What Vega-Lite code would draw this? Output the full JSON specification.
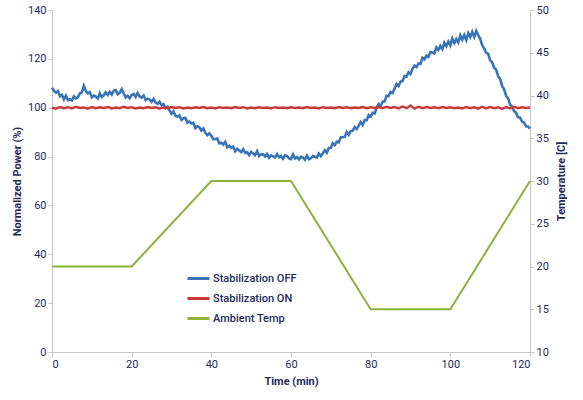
{
  "$schema": "https://vega.github.io/schema/vega-lite/v6.json",
  "width": 478,
  "height": 342,
  "autosize": "none",
  "padding": {"left": 52, "top": 10, "right": 53, "bottom": 48},
  "background": "white",
  "config": {
    "view": {"stroke": null},
    "font": "Roboto",
    "axis": {
      "grid": false,
      "domainColor": "#c6c6c6",
      "tickColor": "#c6c6c6",
      "tickSize": 4,
      "labelColor": "#1f2b5b",
      "titleColor": "#1f2b5b",
      "labelFontSize": 11,
      "titleFontSize": 11,
      "titleFontWeight": "bold",
      "labelFont": "Roboto",
      "titleFont": "Roboto"
    },
    "legend": {
      "labelColor": "#1f2b5b",
      "labelFontSize": 11,
      "labelFontWeight": 500,
      "labelFont": "Roboto"
    }
  },
  "datasets": {
    "off": [
      {"t":0,"p":108.2},{"t":0.5,"p":107.0},{"t":1,"p":106.1},{"t":1.5,"p":106.8},{"t":2,"p":104.7},{"t":2.5,"p":105.3},{"t":3,"p":103.4},{"t":3.5,"p":104.9},{"t":4,"p":103.1},{"t":4.5,"p":103.5},
      {"t":5,"p":103.0},{"t":5.5,"p":104.6},{"t":6,"p":103.8},{"t":6.5,"p":104.3},{"t":7,"p":105.9},{"t":7.5,"p":106.3},{"t":8,"p":109.0},{"t":8.5,"p":106.8},{"t":9,"p":105.9},{"t":9.5,"p":106.4},
      {"t":10,"p":104.3},{"t":10.5,"p":105.0},{"t":11,"p":104.6},{"t":11.5,"p":103.8},{"t":12,"p":105.9},{"t":12.5,"p":104.4},{"t":13,"p":105.1},{"t":13.5,"p":106.3},{"t":14,"p":105.2},{"t":14.5,"p":106.5},
      {"t":15,"p":105.4},{"t":15.5,"p":106.9},{"t":16,"p":107.2},{"t":16.5,"p":105.5},{"t":17,"p":106.1},{"t":17.5,"p":107.6},{"t":18,"p":105.8},{"t":18.5,"p":104.2},{"t":19,"p":104.9},{"t":19.5,"p":103.9},
      {"t":20,"p":105.2},{"t":20.5,"p":105.6},{"t":21,"p":104.4},{"t":21.5,"p":106.0},{"t":22,"p":104.6},{"t":22.5,"p":104.1},{"t":23,"p":105.0},{"t":23.5,"p":103.2},{"t":24,"p":103.7},{"t":24.5,"p":103.3},
      {"t":25,"p":102.4},{"t":25.5,"p":103.6},{"t":26,"p":102.1},{"t":26.5,"p":101.6},{"t":27,"p":102.5},{"t":27.5,"p":101.0},{"t":28,"p":101.5},{"t":28.5,"p":99.8},{"t":29,"p":100.4},{"t":29.5,"p":98.9},
      {"t":30,"p":97.5},{"t":30.5,"p":98.5},{"t":31,"p":96.7},{"t":31.5,"p":96.4},{"t":32,"p":96.8},{"t":32.5,"p":95.0},{"t":33,"p":95.7},{"t":33.5,"p":95.8},{"t":34,"p":93.9},{"t":34.5,"p":94.3},
      {"t":35,"p":93.5},{"t":35.5,"p":93.8},{"t":36,"p":91.7},{"t":36.5,"p":92.4},{"t":37,"p":92.0},{"t":37.5,"p":90.6},{"t":38,"p":91.5},{"t":38.5,"p":89.7},{"t":39,"p":88.8},{"t":39.5,"p":89.5},
      {"t":40,"p":88.5},{"t":40.5,"p":87.1},{"t":41,"p":87.2},{"t":41.5,"p":87.4},{"t":42,"p":85.4},{"t":42.5,"p":85.7},{"t":43,"p":84.9},{"t":43.5,"p":86.0},{"t":44,"p":83.8},{"t":44.5,"p":84.4},
      {"t":45,"p":83.6},{"t":45.5,"p":84.1},{"t":46,"p":82.2},{"t":46.5,"p":83.2},{"t":47,"p":82.5},{"t":47.5,"p":81.8},{"t":48,"p":83.0},{"t":48.5,"p":81.5},{"t":49,"p":81.8},{"t":49.5,"p":80.6},
      {"t":50,"p":81.9},{"t":50.5,"p":81.3},{"t":51,"p":80.6},{"t":51.5,"p":82.2},{"t":52,"p":80.2},{"t":52.5,"p":80.9},{"t":53,"p":80.9},{"t":53.5,"p":80.0},{"t":54,"p":81.1},{"t":54.5,"p":79.5},
      {"t":55,"p":80.5},{"t":55.5,"p":80.1},{"t":56,"p":79.6},{"t":56.5,"p":81.0},{"t":57,"p":79.7},{"t":57.5,"p":80.2},{"t":58,"p":79.1},{"t":58.5,"p":80.5},{"t":59,"p":80.3},{"t":59.5,"p":79.3},
      {"t":60,"p":79.0},{"t":60.5,"p":80.9},{"t":61,"p":79.2},{"t":61.5,"p":79.8},{"t":62,"p":78.8},{"t":62.5,"p":79.9},{"t":63,"p":79.6},{"t":63.5,"p":78.7},{"t":64,"p":80.4},{"t":64.5,"p":78.9},
      {"t":65,"p":79.3},{"t":65.5,"p":80.2},{"t":66,"p":79.9},{"t":66.5,"p":79.6},{"t":67,"p":81.2},{"t":67.5,"p":80.2},{"t":68,"p":81.4},{"t":68.5,"p":82.6},{"t":69,"p":81.6},{"t":69.5,"p":83.5},
      {"t":70,"p":83.6},{"t":70.5,"p":85.5},{"t":71,"p":84.7},{"t":71.5,"p":86.1},{"t":72,"p":85.8},{"t":72.5,"p":87.9},{"t":73,"p":87.9},{"t":73.5,"p":88.1},{"t":74,"p":90.1},{"t":74.5,"p":88.9},
      {"t":75,"p":90.4},{"t":75.5,"p":90.6},{"t":76,"p":92.1},{"t":76.5,"p":91.3},{"t":77,"p":92.7},{"t":77.5,"p":94.1},{"t":78,"p":93.0},{"t":78.5,"p":94.9},{"t":79,"p":94.9},{"t":79.5,"p":97.0},
      {"t":80,"p":96.4},{"t":80.5,"p":97.9},{"t":81,"p":97.6},{"t":81.5,"p":100.0},{"t":82,"p":101.5},{"t":82.5,"p":100.6},{"t":83,"p":102.5},{"t":83.5,"p":102.6},{"t":84,"p":104.9},{"t":84.5,"p":104.8},
      {"t":85,"p":106.4},{"t":85.5,"p":106.0},{"t":86,"p":107.8},{"t":86.5,"p":109.7},{"t":87,"p":108.9},{"t":87.5,"p":110.7},{"t":88,"p":110.9},{"t":88.5,"p":113.0},{"t":89,"p":112.8},{"t":89.5,"p":114.5},
      {"t":90,"p":113.8},{"t":90.5,"p":115.9},{"t":91,"p":117.2},{"t":91.5,"p":116.6},{"t":92,"p":118.1},{"t":92.5,"p":117.9},{"t":93,"p":120.4},{"t":93.5,"p":119.8},{"t":94,"p":121.3},{"t":94.5,"p":120.8},
      {"t":95,"p":122.8},{"t":95.5,"p":122.6},{"t":96,"p":122.2},{"t":96.5,"p":124.7},{"t":97,"p":123.7},{"t":97.5,"p":125.3},{"t":98,"p":124.0},{"t":98.5,"p":126.6},{"t":99,"p":125.2},{"t":99.5,"p":127.1},
      {"t":100,"p":125.5},{"t":100.5,"p":128.3},{"t":101,"p":126.5},{"t":101.5,"p":128.1},{"t":102,"p":126.7},{"t":102.5,"p":129.6},{"t":103,"p":127.8},{"t":103.5,"p":129.8},{"t":104,"p":127.7},{"t":104.5,"p":130.5},
      {"t":105,"p":129.0},{"t":105.5,"p":131.0},{"t":106,"p":129.0},{"t":106.5,"p":131.4},{"t":107,"p":129.7},{"t":107.5,"p":128.2},{"t":108,"p":125.6},{"t":108.5,"p":124.3},{"t":109,"p":122.5},{"t":109.5,"p":122.0},
      {"t":110,"p":119.4},{"t":110.5,"p":118.6},{"t":111,"p":116.4},{"t":111.5,"p":115.6},{"t":112,"p":112.9},{"t":112.5,"p":111.8},{"t":113,"p":108.9},{"t":113.5,"p":107.5},{"t":114,"p":104.9},{"t":114.5,"p":103.8},
      {"t":115,"p":101.3},{"t":115.5,"p":100.5},{"t":116,"p":98.7},{"t":116.5,"p":97.9},{"t":117,"p":96.1},{"t":117.5,"p":95.9},{"t":118,"p":94.3},{"t":118.5,"p":93.9},{"t":119,"p":92.4},{"t":119.5,"p":92.3},
      {"t":120,"p":91.4}
    ],
    "on": [
      {"t":0,"p":100.0},{"t":1,"p":99.6},{"t":2,"p":100.3},{"t":3,"p":99.8},{"t":4,"p":100.2},{"t":5,"p":99.7},{"t":6,"p":100.4},{"t":7,"p":99.9},{"t":8,"p":100.1},{"t":9,"p":99.6},
      {"t":10,"p":100.3},{"t":11,"p":99.8},{"t":12,"p":100.2},{"t":13,"p":99.9},{"t":14,"p":100.3},{"t":15,"p":99.7},{"t":16,"p":100.1},{"t":17,"p":99.8},{"t":18,"p":100.4},{"t":19,"p":99.9},
      {"t":20,"p":100.2},{"t":21,"p":99.7},{"t":22,"p":100.1},{"t":23,"p":99.8},{"t":24,"p":100.3},{"t":25,"p":99.9},{"t":26,"p":100.2},{"t":27,"p":99.6},{"t":28,"p":100.1},{"t":29,"p":99.8},
      {"t":30,"p":100.3},{"t":31,"p":99.9},{"t":32,"p":100.2},{"t":33,"p":99.7},{"t":34,"p":100.1},{"t":35,"p":99.8},{"t":36,"p":100.2},{"t":37,"p":99.9},{"t":38,"p":100.3},{"t":39,"p":99.8},
      {"t":40,"p":100.1},{"t":41,"p":99.7},{"t":42,"p":100.2},{"t":43,"p":99.9},{"t":44,"p":100.1},{"t":45,"p":99.8},{"t":46,"p":100.3},{"t":47,"p":99.9},{"t":48,"p":100.2},{"t":49,"p":99.7},
      {"t":50,"p":100.1},{"t":51,"p":99.8},{"t":52,"p":100.2},{"t":53,"p":99.9},{"t":54,"p":100.1},{"t":55,"p":99.7},{"t":56,"p":100.2},{"t":57,"p":99.9},{"t":58,"p":100.1},{"t":59,"p":99.8},
      {"t":60,"p":100.2},{"t":61,"p":99.9},{"t":62,"p":100.1},{"t":63,"p":99.8},{"t":64,"p":100.3},{"t":65,"p":99.9},{"t":66,"p":100.1},{"t":67,"p":99.7},{"t":68,"p":100.2},{"t":69,"p":99.9},
      {"t":70,"p":100.1},{"t":71,"p":99.8},{"t":72,"p":100.3},{"t":73,"p":99.9},{"t":74,"p":100.2},{"t":75,"p":99.8},{"t":76,"p":100.1},{"t":77,"p":99.9},{"t":78,"p":100.3},{"t":79,"p":99.8},
      {"t":80,"p":100.2},{"t":81,"p":99.9},{"t":82,"p":100.3},{"t":83,"p":99.8},{"t":84,"p":100.4},{"t":85,"p":99.9},{"t":86,"p":100.3},{"t":87,"p":99.7},{"t":88,"p":100.5},{"t":89,"p":99.8},
      {"t":90,"p":100.9},{"t":91,"p":99.6},{"t":92,"p":100.4},{"t":93,"p":99.8},{"t":94,"p":100.3},{"t":95,"p":99.9},{"t":96,"p":100.2},{"t":97,"p":99.8},{"t":98,"p":100.3},{"t":99,"p":99.9},
      {"t":100,"p":100.2},{"t":101,"p":99.8},{"t":102,"p":100.1},{"t":103,"p":99.7},{"t":104,"p":100.3},{"t":105,"p":99.8},{"t":106,"p":100.2},{"t":107,"p":99.6},{"t":108,"p":100.4},{"t":109,"p":99.7},
      {"t":110,"p":100.3},{"t":111,"p":99.8},{"t":112,"p":100.2},{"t":113,"p":99.5},{"t":114,"p":100.3},{"t":115,"p":99.7},{"t":116,"p":100.4},{"t":117,"p":99.8},{"t":118,"p":100.2},{"t":119,"p":99.9},
      {"t":120,"p":100.1}
    ],
    "amb": [
      {"t":0,"c":20},{"t":20,"c":20},{"t":40,"c":30},{"t":60,"c":30},{"t":80,"c":15},{"t":100,"c":15},{"t":120,"c":30}
    ]
  },
  "layer": [
    {
      "layer": [
        {
          "data": {"name": "off"},
          "mark": {"type": "line", "strokeWidth": 2.6},
          "encoding": {
            "x": {"field": "t", "type": "quantitative", "scale": {"domain": [0, 120], "nice": false},
                  "axis": {"values": [0, 20, 40, 60, 80, 100, 120], "title": "Time (min)", "titlePadding": 6}},
            "y": {"field": "p", "type": "quantitative", "scale": {"domain": [0, 140], "nice": false},
                  "axis": {"values": [0, 20, 40, 60, 80, 100, 120, 140], "title": "Normalized Power (%)", "titlePadding": 5}},
            "color": {"datum": "Stabilization OFF", "type": "nominal",
              "scale": {"domain": ["Stabilization OFF", "Stabilization ON", "Ambient Temp"], "range": ["#3a74b8", "#c9393a", "#8db33c"]},
              "legend": {"title": null, "orient": "none", "legendX": 134, "legendY": 256, "symbolType": "stroke", "symbolSize": 484, "symbolStrokeWidth": 3, "rowPadding": 1, "labelOffset": 2}}
          }
        },
        {
          "data": {"name": "on"},
          "mark": {"type": "line", "strokeWidth": 2.4},
          "encoding": {
            "x": {"field": "t", "type": "quantitative"},
            "y": {"field": "p", "type": "quantitative"},
            "color": {"datum": "Stabilization ON", "type": "nominal"}
          }
        }
      ]
    },
    {
      "data": {"name": "amb"},
      "mark": {"type": "line", "strokeWidth": 2},
      "encoding": {
        "x": {"field": "t", "type": "quantitative"},
        "y": {"field": "c", "type": "quantitative", "scale": {"domain": [10, 50], "nice": false},
              "axis": {"orient": "right", "values": [10, 15, 20, 25, 30, 35, 40, 45, 50], "title": "Temperature [C]", "titleAngle": 270, "titlePadding": 18}},
        "color": {"datum": "Ambient Temp", "type": "nominal"}
      }
    }
  ],
  "resolve": {"scale": {"y": "independent"}}
}
